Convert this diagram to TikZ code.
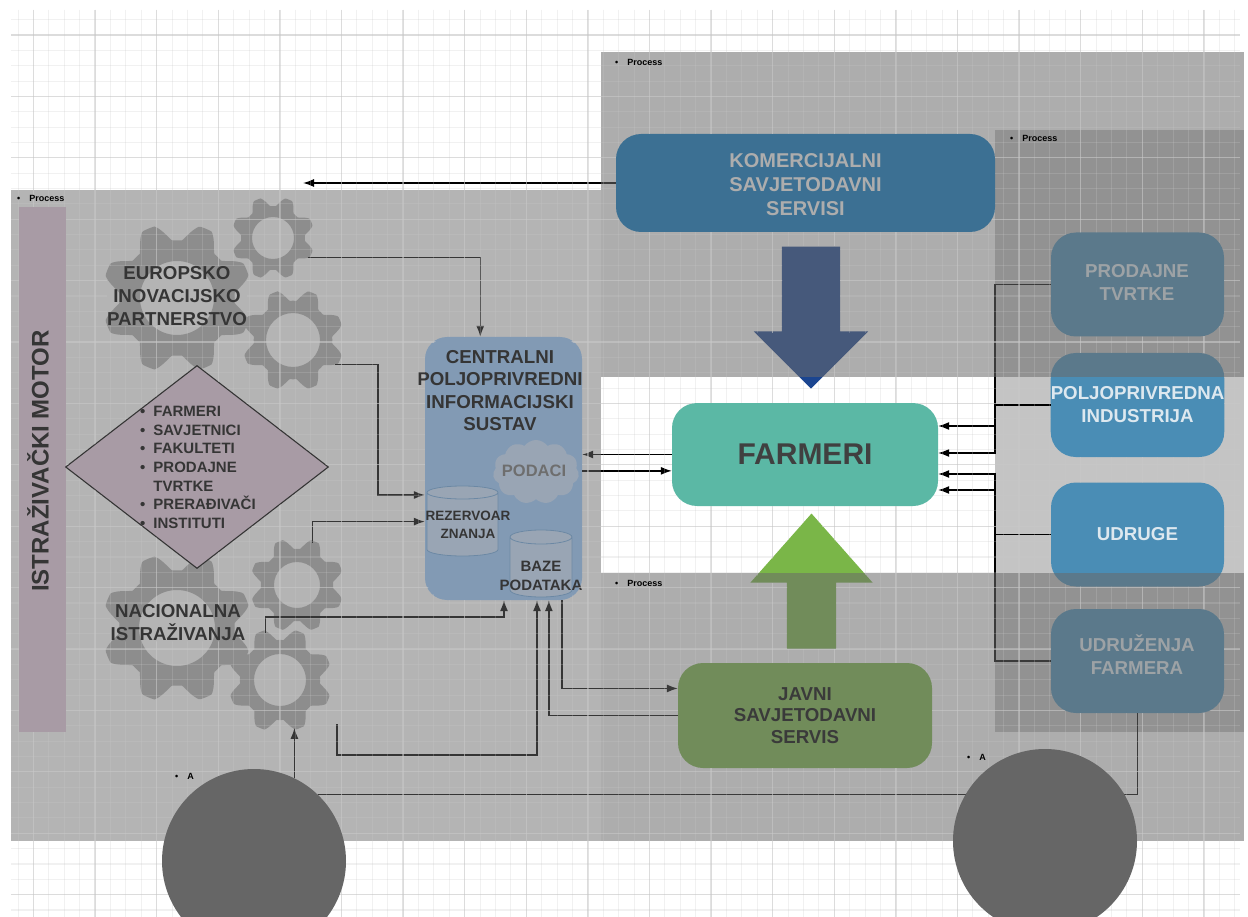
\documentclass[tikz,border=0pt]{standalone}
\usepackage{fontspec}
\setmainfont{Liberation Sans}
\usetikzlibrary{arrows.meta,shapes.geometric,shapes.symbols,shapes.arrows}
\pgfdeclarelayer{front}
\pgfsetlayers{main,front}
\definecolor{gearfill}{HTML}{B2B2B2}
\definecolor{barfill}{HTML}{E8CEE2}
\definecolor{centralfill}{HTML}{9CCCFF}
\definecolor{storefill}{HTML}{CAE2FF}
\definecolor{storeline}{HTML}{6FA8E0}
\definecolor{blueboxfill}{HTML}{4A8DB5}
\definecolor{commfill}{HTML}{0478C5}
\definecolor{downfill}{HTML}{1B4590}
\definecolor{greenfill}{HTML}{7AB648}
\definecolor{farmerfill}{HTML}{5BB8A5}
\definecolor{overlayfill}{HTML}{6A6A6A}
\definecolor{gridline}{HTML}{C8C8C8}
\definecolor{paleword}{HTML}{DDE8EF}
\newcommand{\cogwheel}[4]{%
  \node[gearnode,minimum size={1.9*#3}] (#1) at (#2) {};
  \fill[gearfill,even odd rule,shift={(#2)}]
    plot[samples=241,domain=0:358.5,variable=\t] ({\t}:{#3*(.885+.115*max(-1,min(1,1.3*cos(8*\t-180))))}) -- cycle
    (0,0) circle[radius=#4];
}
% centre x, top y, half width, height, half height of the end
\newcommand{\storedrum}[5]{%
  \filldraw[store,shift={(#1,#2)}] (-#3,#5) -- (-#3,#4-#5)
    arc[start angle=180,end angle=360,x radius=#3pt,y radius=#5pt] -- (#3,#5)
    arc[start angle=0,end angle=180,x radius=#3pt,y radius=#5pt] -- cycle
    (0,#5) ellipse[x radius=#3pt,y radius=#5pt];
}
\begin{document}
\begin{tikzpicture}[x=1pt,y=-1pt,>={Latex[length=11pt,width=8pt]},
   gridminor/.style={draw=gridline,opacity=.25,line width=1.1pt},
   gridmajor/.style={draw=gridline,opacity=.5,line width=1.3pt},
   gearnode/.style={circle,inner sep=0pt},
   overlay panel/.style={fill=overlayfill,opacity=.55},
   left panel/.style={fill=overlayfill,opacity=.5},
   word/.style={font=\fontsize{18.7}{23}\selectfont\bfseries,align=center,inner sep=0pt},
   roundbox/.style={rounded corners=25pt,minimum width=#1,inner sep=0pt,word},
   bluebox/.style={roundbox=173pt,minimum height=104pt,fill=blueboxfill,text=paleword},
   store/.style={fill=storefill,draw=storeline,line width=.8pt},
   wheel/.style={circle,fill=black!60,minimum size=184pt,inner sep=0pt},
   link/.style={draw=black,line width=1.3pt},
   marker/.style={font=\fontsize{9}{9}\selectfont\bfseries,anchor=west,inner sep=0pt}]
   \clip (0,0) rectangle (1248,917);
   \fill[white] (0,0) rectangle (1248,917);
   \fill[black,opacity=.23] (995,130) rectangle (1244,732);
   % left part
   \node[fill=barfill,minimum width=47pt,minimum height=525pt,inner sep=0pt] (motor_bar) at (42.5,469.5) {};
   \node[word,font=\fontsize{24}{24}\selectfont\bfseries,rotate=90] (motor_text) at (38,461) {ISTRAŽIVAČKI MOTOR};
   \cogwheel{gear_a}{177,298}{75}{37}
   \cogwheel{gear_b}{273,238}{41.5}{21}
   \cogwheel{gear_c}{293,340}{51}{27}
   \cogwheel{gear_d}{177,628}{75}{38}
   \cogwheel{gear_e}{297,585}{47}{23}
   \cogwheel{gear_f}{280,680}{52}{26}
   \node[diamond,fill=barfill,draw=black,line width=1.1pt,minimum width=263pt,minimum height=203pt,inner sep=0pt] (partners) at (197,467) {};
   \node[anchor=west,align=left,inner sep=0pt,font=\fontsize{15}{18.6}\selectfont\bfseries] (partners_list) at (140,467.5) {%
     \textbullet\hspace{8pt}FARMERI\\\textbullet\hspace{8pt}SAVJETNICI\\\textbullet\hspace{8pt}FAKULTETI\\%
     \textbullet\hspace{8pt}PRODAJNE\\\phantom{\textbullet}\hspace{8pt}TVRTKE\\\textbullet\hspace{8pt}PRERAĐIVAČI\\\textbullet\hspace{8pt}INSTITUTI};
   \node[word] (gear_a_text) at (177,296) {EUROPSKO\\INOVACIJSKO\\PARTNERSTVO};
   \node[word] (gear_d_text) at (178,623) {NACIONALNA\\ISTRAŽIVANJA};
   % central system
   \node[fill=centralfill,rounded corners=22pt,minimum width=157pt,minimum height=263pt,inner sep=0pt] (central) at (503.5,468.5) {};
   \node[word,font=\fontsize{18.7}{22.4}\selectfont\bfseries] (central_text) at (500,390.5) {CENTRALNI\\POLJOPRIVREDNI\\INFORMACIJSKI\\SUSTAV};
   \node[cloud,cloud puffs=11,cloud puff arc=110,aspect=1.4,fill=storefill,minimum width=86pt,minimum height=64pt,inner sep=0pt] (data_cloud) at (536,472) {};
   \node[word,font=\fontsize{16.5}{16.5}\selectfont\bfseries,text=black!55] (data_text) at (534,471) {PODACI};
   \storedrum{462.5}{486}{35.5}{70}{6.5}
   \node[word,font=\fontsize{13.5}{18}\selectfont\bfseries] (store_a_text) at (468,525) {REZERVOAR\\ZNANJA};
   \storedrum{541}{530}{31}{67}{7}
   \node[word,font=\fontsize{15}{18.5}\selectfont\bfseries] (store_b_text) at (541,576) {BAZE\\PODATAKA};
   % boxes on the right
   \node[roundbox=379pt,minimum height=98pt,fill=commfill] (commercial) at (805.5,183) {};
   \node[word,text=white,font=\fontsize{20}{24}\selectfont\bfseries] (commercial_text) at (805.5,185) {KOMERCIJALNI\\SAVJETODAVNI\\SERVISI};
   \node[roundbox=266pt,minimum height=103pt,fill=farmerfill,font=\fontsize{30}{30}\selectfont\bfseries,text=black!75] (farmeri) at (805,454.5) {\raisebox{-3pt}{FARMERI}};
   \node[roundbox=254pt,minimum height=105pt,fill=greenfill,font=\fontsize{18.7}{21.5}\selectfont\bfseries] (public) at (805,715.5) {JAVNI\\SAVJETODAVNI\\SERVIS};
   \node[bluebox] (sales) at (1137.5,284.5) {};
   \node[word,text=paleword] (sales_text) at (1137,282.5) {PRODAJNE\\TVRTKE};
   \node[bluebox] (industry) at (1137.5,405) {POLJOPRIVREDNA\\INDUSTRIJA};
   \node[bluebox] (unions) at (1137.5,534.5) {\raisebox{1.5pt}{UDRUGE}};
   \node[bluebox] (farmer_assoc) at (1137.5,661) {};
   \node[word,text=paleword] (farmer_assoc_text) at (1137,655) {UDRUŽENJA\\FARMERA};
   \node[single arrow,fill=downfill,minimum height=142pt,minimum width=114pt,single arrow head extend=28pt,shape border rotate=270,inner sep=29pt] (arrow_down) at (811,303) {};
   \node[single arrow,fill=greenfill,minimum height=135pt,minimum width=122pt,single arrow head extend=36.5pt,single arrow tip angle=83,shape border rotate=90,inner sep=24.5pt] (arrow_up) at (811.5,595) {};
   \begin{pgfonlayer}{front}
     \clip (0,0) rectangle (1248,917);
     \node[wheel] (wheel_a) at (254,861) {};
     \node[wheel] (wheel_b) at (1045,841) {};
   \end{pgfonlayer}
   \coordinate (top_end) at (303,183);
   \coordinate (loose_end) at (337,724);
   % connectors
   \path[->,link]
    (commercial.west) edge (top_end)
    (gear_b.-29) edge[to path={-| (\tikztotarget)}] (central.100.6)
    (gear_e.70) edge[to path={|- (\tikztotarget)}] (central.214.3)
    (central.-66.8) edge[to path={|- (\tikztotarget)}] (public.168.2)
    (public.west) edge[to path={-| (\tikztotarget)}] (central.-71.7)
    (farmeri.west) edge (farmeri.west -| central.east)
    (central.east |- farmeri.187) edge (farmeri.187)
    (wheel_a.64) edge (wheel_a.64 |- gear_f.-75);
   \draw[->,link] (gear_c.-30) -| (378,495) -- (378,495 -| central.west);
   \draw[->,link] (gear_f.107) |- (504,617) -- (504,617 |- central.south);
   \draw[->,link] (loose_end) |- (537,755) -- (537,755 |- central.south);
   \draw[->,link] (sales.west) -| (995,426) -- (995,426 -| farmeri.east);
   \draw[->,link] (industry.west) -| (995,453) -- (995,453 -| farmeri.east);
   \draw[->,link] (unions.west) -| (995,474) -- (995,474 -| farmeri.east);
   \draw[->,link] (farmer_assoc.west) -| (995,490) -- (995,490 -| farmeri.east);
   \draw[link] (wheel_a.46.8) -| (farmer_assoc.south);
   % panels over everything
   \fill[left panel] (11,190) rectangle (601,841);
   \fill[overlay panel] (601,52) rectangle (1244,377);
   \fill[overlay panel] (601,573) rectangle (1244,841);
   % grid, left out where the boxes and arrows are
   \begin{scope}[even odd rule]
     \clip (-60,-60) rectangle (1308,977)
       (motor_bar.north west) rectangle (motor_bar.south east)
       (gear_a_text.north west) rectangle (gear_a_text.south east)
       (gear_d_text.north west) rectangle (gear_d_text.south east)
       (partners.north) -- (partners.east) -- (partners.south) -- (partners.west) -- cycle
       (782,246) -- (840,246) -- (840,333) -- (868,333) -- (811,388) -- (754,333) -- (782,333) -- cycle
       (811,514) -- (873,583) -- (836,583) -- (836,649) -- (787,649) -- (787,583) -- (751,583) -- cycle
       [rounded corners=25pt]
       (central.north west) rectangle (central.south east)
       (commercial.north west) rectangle (commercial.south east)
       (farmeri.north west) rectangle (farmeri.south east)
       (public.north west) rectangle (public.south east)
       (sales.north west) rectangle (sales.south east)
       (industry.north west) rectangle (industry.south east)
       (unions.north west) rectangle (unions.south east)
       (farmer_assoc.north west) rectangle (farmer_assoc.south east);
     \foreach \i in {0,...,80} {
       \pgfmathsetmacro{\gx}{18.1+15.4*\i}
       \pgfmathsetmacro{\gy}{19.7+15.35*\i}
       \ifdim\gx pt<1240pt \draw[gridminor] (\gx,10) -- (\gx,917); \fi
       \ifdim\gy pt<917pt \draw[gridminor] (11,\gy) -- (1240,\gy); \fi
     }
     \foreach \i in {0,...,19} {
       \pgfmathsetmacro{\gx}{33.5+61.6*\i}
       \pgfmathsetmacro{\gy}{35+61.4*\i}
       \ifdim\gx pt<1240pt \draw[gridmajor] (\gx,10) -- (\gx,917); \fi
       \ifdim\gy pt<917pt \draw[gridmajor] (11,\gy) -- (1240,\gy); \fi
     }
   \end{scope}
   \node[marker] (process_a) at (17,198) {\textbullet\hspace{9pt}Process};
   \node[marker] (process_b) at (615,62) {\textbullet\hspace{9pt}Process};
   \node[marker] (process_c) at (1010,138) {\textbullet\hspace{9pt}Process};
   \node[marker] (process_d) at (615,583) {\textbullet\hspace{9pt}Process};
   \node[marker] (wheel_a_text) at (175,776) {\textbullet\hspace{9pt}A};
   \node[marker] (wheel_b_text) at (967,757) {\textbullet\hspace{9pt}A};
\end{tikzpicture}
\end{document}
